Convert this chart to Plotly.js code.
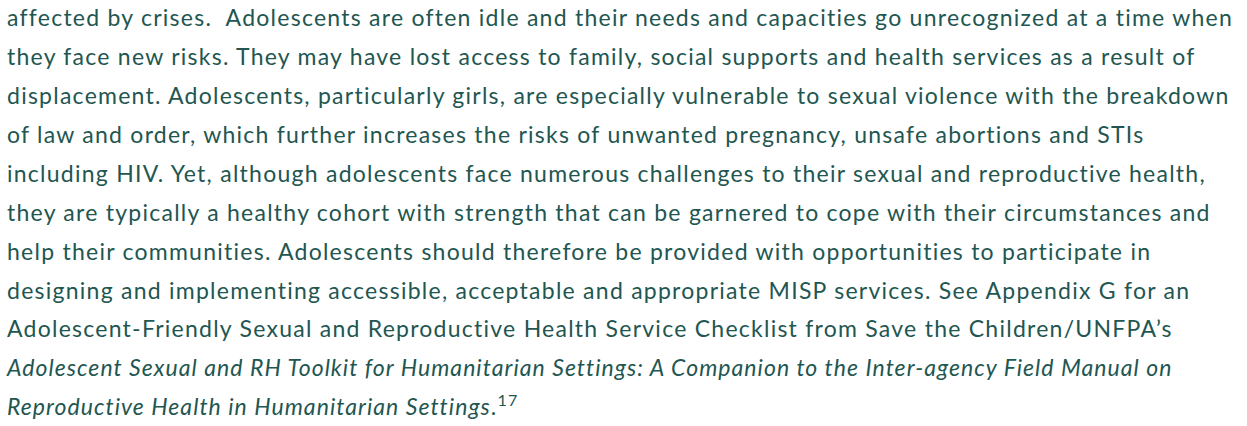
<!DOCTYPE html>
<html>
<head>
<meta charset="utf-8">
<script src="https://cdn.plot.ly/plotly-3.0.1.min.js"></script>
<style>
  html, body { margin: 0; padding: 0; background: #ffffff; }
  #chart { width: 1247px; height: 426px; }
  #chart .textpoint text { letter-spacing: 1.25px; }
  #chart .textpoint text tspan[style*="italic"] { letter-spacing: 1.05px; }
</style>
</head>
<body>
<div id="chart"></div>
<script>
// Text lines of the paragraph, as laid out in the reference
const lineTexts = [
  "affected by crises.\u00A0 Adolescents are often idle and their needs and capacities go unrecognized at a time when",
  "they face new risks. They may have lost access to family, social supports and health services as a result of",
  "displacement. Adolescents, particularly girls, are especially vulnerable to sexual violence with the breakdown",
  "of law and order, which further increases the risks of unwanted pregnancy, unsafe abortions and STIs",
  "including HIV. Yet, although adolescents face numerous challenges to their sexual and reproductive health,",
  "they are typically a healthy cohort with strength that can be garnered to cope with their circumstances and",
  "help their communities. Adolescents should therefore be provided with opportunities to participate in",
  "designing and implementing accessible, acceptable and appropriate MISP services. See Appendix G for an",
  "Adolescent-Friendly Sexual and Reproductive Health Service Checklist from Save the Children/UNFPA\u2019s",
  "<i>Adolescent Sexual and RH Toolkit for Humanitarian Settings: A Companion to the Inter-agency Field Manual on</i>",
  "<i>Reproductive Health in Humanitarian Settings</i>.<sup>17</sup>"
];
const lineIndex = [0, 1, 2, 3, 4, 5, 6, 7, 8, 9, 10];
const lineStart = [0, 0, 0, 0, 0, 0, 0, 0, 0, 0, 0];

const textColor = "#225651";
const fontSize = 23;

const trace = {
  type: "scatter",
  mode: "text",
  x: lineStart,
  y: lineIndex,
  text: lineTexts,
  textposition: "middle right",
  textfont: { family: "Lato, 'Open Sans', sans-serif", size: fontSize, color: textColor },
  hoverinfo: "skip",
  showlegend: false,
  cliponaxis: false
};

// pixel geometry: first baseline ~28.5px, pitch ~38.9px
const pitch = 38.9, firstBaseline = 28.5, H = 426;
const firstCenter = firstBaseline - 0.35 * fontSize;
const yTop = -firstCenter / pitch;
const yBottom = (H - firstCenter) / pitch;

const layout = {
  width: 1247,
  height: 426,
  margin: { l: 7, r: 0, t: 0, b: 0, pad: 0 },
  paper_bgcolor: "#ffffff",
  plot_bgcolor: "#ffffff",
  xaxis: { range: [0, 1], visible: false, fixedrange: true },
  yaxis: { range: [yBottom, yTop], visible: false, fixedrange: true },
  showlegend: false
};

Plotly.newPlot("chart", [trace], layout, { staticPlot: true, displayModeBar: false });
</script>
</body>
</html>
